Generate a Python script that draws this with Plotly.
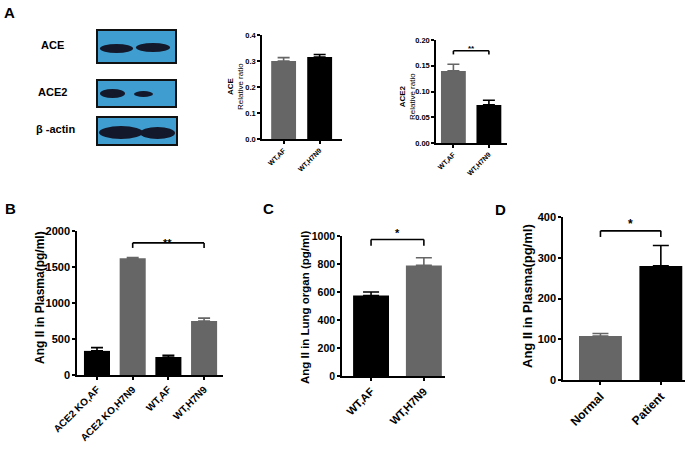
import plotly.graph_objects as go

W, H = 697, 451
GRAY = "#666666"
BLACK = "#000000"
FONT = "Liberation Sans, Arial, sans-serif"

# Panel A quantification (relative ratio to beta-actin)
a_groups = ["WT,AF", "WT,H7N9"]
ace_ratio = [0.300, 0.315]
ace_sem = [0.013, 0.010]
ace2_ratio = [0.140, 0.074]
ace2_sem = [0.013, 0.009]

# Panel B: Ang II in plasma, mice
b_groups = ["ACE2 KO,AF", "ACE2 KO,H7N9", "WT,AF", "WT,H7N9"]
b_plasma = [335, 1620, 250, 750]
b_sem = [45, 12, 25, 40]

# Panel C: Ang II in lung
c_groups = ["WT,AF", "WT,H7N9"]
c_lung = [575, 790]
c_sem = [25, 55]

# Panel D: Ang II in plasma, patients
d_groups = ["Normal", "Patient"]
d_plasma = [108, 280]
d_sem = [6, 50]

# western blot rows
blot_labels = ["ACE", "ACE2", "β -actin"]


def xd(a, b):
    return [a / W, b / W]


def yd(top, bottom):
    return [1 - bottom / H, 1 - top / H]


fig = go.Figure()
yranges = {}


def panel(n, groups, vals, sems, colors, xdom, ydom, yrange, dtick, fmt,
          xrange, bw, cap, tfs, xfs):
    yranges[n] = yrange
    for g, v, s, c in zip(groups, vals, sems, colors):
        fig.add_trace(go.Bar(
            x=[g], y=[v], width=bw, marker_color=c, marker_line_width=0,
            error_y=dict(type="data", array=[s], arrayminus=[0], symmetric=False,
                         color=c, thickness=1.6, width=cap),
            xaxis=f"x{n}", yaxis=f"y{n}", showlegend=False))
    sfx = "" if n == 1 else str(n)
    axcommon = dict(showline=True, linecolor="black", linewidth=1.5, ticks="outside",
                    ticklen=3, tickwidth=1.5, tickcolor="black", showgrid=False,
                    zeroline=False, automargin=False)
    fig.layout[f"xaxis{sfx}"] = dict(
        domain=xd(*xdom), anchor=f"y{n}", type="category",
        categoryorder="array", categoryarray=groups, range=xrange,
        tickangle=-45, tickfont=dict(family=FONT, size=xfs, color="black", weight="bold"),
        **axcommon)
    fig.layout[f"yaxis{sfx}"] = dict(
        domain=yd(*ydom), anchor=f"x{n}", range=yrange, dtick=dtick, tickformat=fmt,
        tickfont=dict(family=FONT, size=tfs, color="black", weight="bold"),
        **axcommon)


# A: ACE
panel(1, a_groups, ace_ratio, ace_sem, [GRAY, BLACK], (262, 342), (35, 139),
      [0, 0.4], 0.1, ".1f", [-0.6, 1.62], 0.69, 6, 7.5, 7)
# A: ACE2
panel(2, a_groups, ace2_ratio, ace2_sem, [GRAY, BLACK], (436, 507), (40, 143),
      [0, 0.2], 0.05, ".2f", [-0.49, 1.51], 0.7, 6, 7.5, 7)
# B
panel(3, b_groups, b_plasma, b_sem, [BLACK, GRAY, BLACK, GRAY], (77, 223), (231, 375),
      [0, 2000], 500, "d", [-0.56, 3.53], 0.73, 6, 11, 10)
# C
panel(4, c_groups, c_lung, c_sem, [BLACK, GRAY], (342, 445), (236, 376),
      [0, 1000], 200, "d", [-0.55, 1.4], 0.68, 8, 10.5, 11)
# D
panel(5, d_groups, d_plasma, d_sem, [GRAY, BLACK], (563, 685), (217, 380),
      [0, 400], 100, "d", [-0.62, 1.4], 0.71, 8, 11, 12)

# significance brackets
for n, g1, g2, y, leg, ty, text, size, shift in [
        (2, "WT,AF", "WT,H7N9", 0.179, 0.007, 0.196, "**", 8, 18),
        (3, "ACE2 KO,H7N9", "WT,H7N9", 1835, 70, 1950, "**", 11, 35),
        (4, "WT,AF", "WT,H7N9", 975, 45, 1080, "*", 11, 26),
        (5, "Normal", "Patient", 366, 15, 405, "*", 12, 30)]:
    for x0, x1, y0, y1 in [(g1, g2, y, y), (g1, g1, y - leg, y), (g2, g2, y - leg, y)]:
        fig.add_shape(type="line", xref=f"x{n}", yref=f"y{n}", x0=x0, x1=x1, y0=y0, y1=y1,
                      line=dict(color="black", width=1.6))
    fig.add_annotation(xref=f"x{n}", yref=f"y{n} domain", x=g1,
                       y=ty / yranges[n][1], text=text, showarrow=False, xshift=shift,
                       font=dict(family=FONT, size=size, color="black", weight="bold"))

# y-axis titles
for x, y, text, size in [
        (236, 87, "<b>ACE</b><br>Relative ratio", 8),
        (407, 97, "<b>ACE2</b><br>Relative ratio", 8),
        (40, 298, "<b>Ang II in Plasma(pg/ml)</b>", 12),
        (305, 308, "<b>Ang II in Lung organ (pg/ml)</b>", 11.5),
        (527, 296, "<b>Ang II in Plasma(pg/ml)</b>", 13)]:
    fig.add_annotation(xref="paper", yref="paper", x=x / W, y=1 - y / H, text=text,
                       textangle=-90, showarrow=False, xanchor="center", yanchor="middle",
                       font=dict(family=FONT, size=size, color="black"))

# panel letters
for x, y, t in [(9, 13, "A"), (10, 208, "B"), (268, 208, "C"), (500, 210, "D")]:
    fig.add_annotation(xref="paper", yref="paper", x=x / W, y=1 - y / H, text=f"<b>{t}</b>",
                       showarrow=False, xanchor="center", yanchor="middle",
                       font=dict(family=FONT, size=15, color="black"))

# western blot panels
blot_boxes = [(97, 30, 176, 63), (97, 80, 176, 107), (97, 117, 177, 145)]
blot_bands = [
    [(100, 44, 133, 53), (136, 43, 170, 52)],
    [(100, 89, 125, 98), (134, 91, 153, 97)],
    [(99, 126, 143, 139), (140, 127, 175, 139)],
]
label_pos = [(52, 45), (52, 92), (56, 129)]
for lab, (lx, ly), (x0, y0, x1, y1), bands in zip(blot_labels, label_pos, blot_boxes, blot_bands):
    fig.add_shape(type="rect", xref="paper", yref="paper", x0=x0 / W, x1=x1 / W,
                  y0=1 - y1 / H, y1=1 - y0 / H, fillcolor="#3f9dd0",
                  line=dict(color="#111111", width=2))
    for bx0, by0, bx1, by1 in bands:
        fig.add_shape(type="circle", xref="paper", yref="paper", x0=bx0 / W, x1=bx1 / W,
                      y0=1 - by1 / H, y1=1 - by0 / H, fillcolor="#13182a",
                      line=dict(width=0))
    fig.add_annotation(xref="paper", yref="paper", x=lx / W, y=1 - ly / H,
                       text=f"<b>{lab}</b>", showarrow=False, xanchor="center",
                       yanchor="middle", font=dict(family=FONT, size=11, color="black"))

fig.update_layout(width=W, height=H, margin=dict(l=0, r=0, t=0, b=0),
                  paper_bgcolor="white", plot_bgcolor="white", barmode="overlay",
                  showlegend=False)

fig.write_html("out.html", config={"displayModeBar": False},
               post_script="document.body.style.margin='0';")
